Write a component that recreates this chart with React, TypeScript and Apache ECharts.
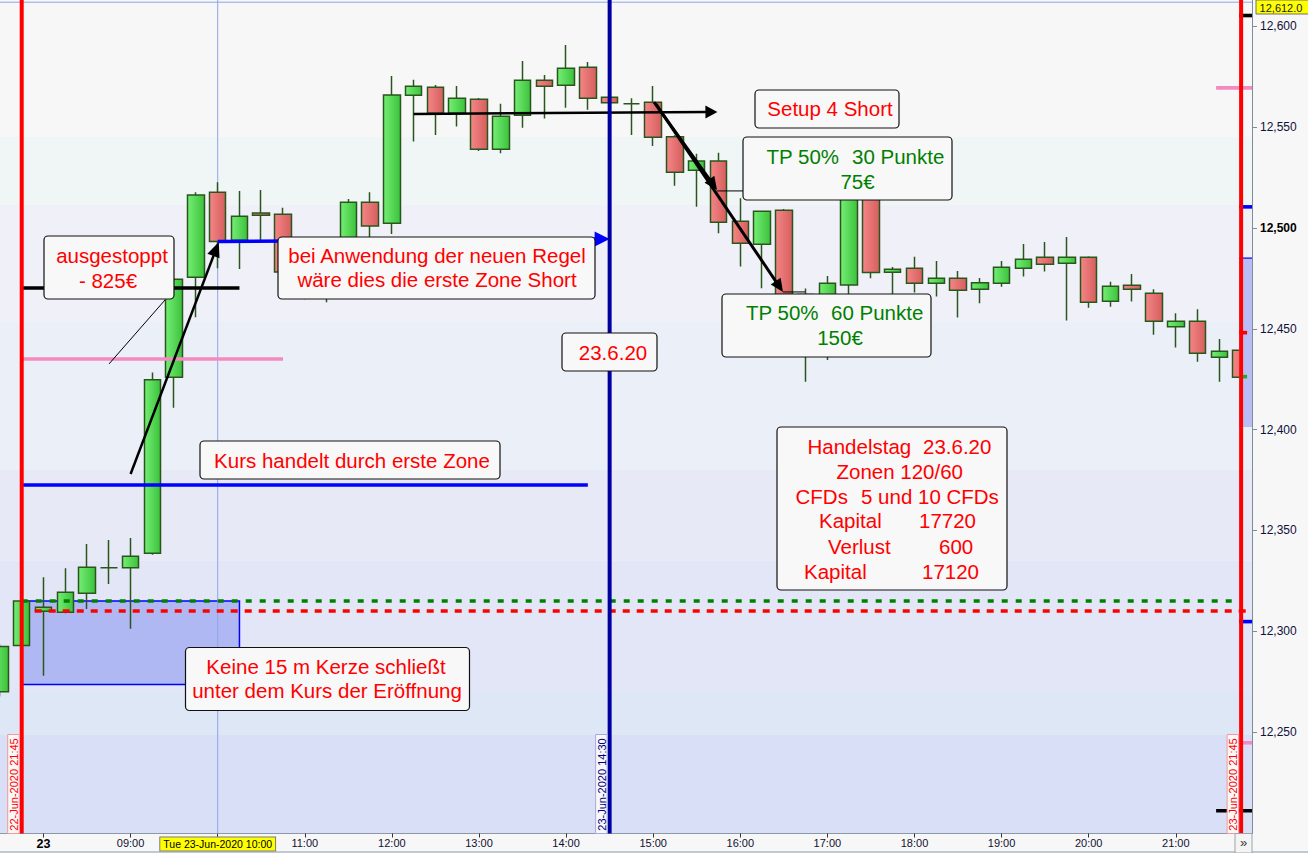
import React, { useEffect, useRef } from 'react';
import * as echarts from 'echarts';

// ---------- DATA ----------
const SLOTS = [
  '22-Jun 21:30', '22-Jun 21:45',
  '08:00', '08:15', '08:30', '08:45', '09:00', '09:15', '09:30', '09:45',
  '10:00', '10:15', '10:30', '10:45', '11:00', '11:15', '11:30', '11:45',
  '12:00', '12:15', '12:30', '12:45', '13:00', '13:15', '13:30', '13:45',
  '14:00', '14:15', '14:30', '14:45', '15:00', '15:15', '15:30', '15:45',
  '16:00', '16:15', '16:30', '16:45', '17:00', '17:15', '17:30', '17:45',
  '18:00', '18:15', '18:30', '18:45', '19:00', '19:15', '19:30', '19:45',
  '20:00', '20:15', '20:30', '20:45', '21:00', '21:15', '21:30', '21:45',
];

const OPEN = [
  12270.0, 12292.9,
  12309.9, 12309.4, 12318.9, 12331.5, 12331.5, 12338.7, 12426.0, 12475.6,
  12517.8, 12493.9, 12507.5, 12506.8, 12478.0, 12470.0, 12476.0, 12512.8,
  12502.4, 12565.9, 12569.8, 12556.9, 12563.9, 12539.1, 12556.0, 12573.3,
  12570.8, 12579.8, 12564.9, 12561.6, 12562.4, 12545.3, 12528.7, 12533.3,
  12503.4, 12492.0, 12508.8, 12467.0, 12462.0, 12471.8, 12515.0, 12478.1,
  12480.1, 12472.6, 12475.1, 12469.6, 12472.6, 12480.1, 12485.5, 12482.5,
  12485.5, 12463.7, 12471.6, 12467.7, 12451.1, 12453.8, 12435.9, 12439.4,
];
const HIGH = [
  12293.5, 12315.5,
  12326.8, 12331.2, 12343.3, 12345.3, 12346.3, 12428.3, 12475.0, 12517.8,
  12522.7, 12518.4, 12518.9, 12510.0, 12482.0, 12480.0, 12514.4, 12517.8,
  12575.4, 12573.5, 12571.0, 12570.5, 12564.5, 12561.6, 12582.9, 12575.9,
  12590.8, 12582.4, 12565.5, 12564.4, 12570.5, 12546.0, 12536.8, 12537.4,
  12514.8, 12508.5, 12509.5, 12470.0, 12476.2, 12520.0, 12518.0, 12480.7,
  12485.7, 12483.7, 12478.7, 12475.2, 12483.7, 12492.1, 12493.1, 12495.6,
  12486.0, 12473.3, 12477.2, 12469.6, 12457.7, 12459.7, 12445.0, 12439.8,
];
const LOW = [
  12267.6, 12292.5,
  12278.0, 12308.9, 12311.1, 12323.5, 12301.3, 12338.0, 12410.9, 12455.8,
  12480.0, 12479.7, 12494.1, 12477.0, 12464.7, 12463.2, 12474.0, 12495.0,
  12497.0, 12542.9, 12546.2, 12550.3, 12538.2, 12537.1, 12549.8, 12554.3,
  12559.7, 12558.7, 12561.5, 12546.2, 12540.7, 12521.0, 12510.6, 12497.4,
  12480.9, 12470.1, 12464.0, 12423.8, 12434.6, 12466.0, 12475.1, 12466.0,
  12468.0, 12466.0, 12455.6, 12462.7, 12470.9, 12475.9, 12478.4, 12454.1,
  12460.5, 12461.0, 12463.5, 12447.1, 12440.7, 12433.7, 12423.8, 12426.0,
];
const CLOSE = [
  12292.4, 12315.0,
  12311.9, 12319.3, 12331.7, 12331.5, 12337.2, 12424.7, 12474.6, 12516.4,
  12493.3, 12505.9, 12506.3, 12478.2, 12470.0, 12476.0, 12512.8, 12501.0,
  12566.0, 12570.3, 12556.9, 12564.4, 12539.1, 12555.5, 12573.3, 12570.3,
  12579.3, 12564.4, 12562.1, 12561.6, 12545.0, 12527.7, 12533.3, 12502.9,
  12492.5, 12508.3, 12467.0, 12462.0, 12472.6, 12515.0, 12477.9, 12479.6,
  12472.6, 12475.1, 12469.1, 12472.8, 12480.6, 12484.5, 12482.0, 12485.5,
  12463.2, 12471.1, 12469.6, 12453.8, 12453.8, 12437.9, 12438.9, 12426.0,
];

const Y_MIN = 12199.7;
const Y_MAX = 12613.1;
const Y_TICKS = [12250, 12300, 12350, 12400, 12450, 12500, 12550, 12600];
const CROSSHAIR_PRICE = 12612.0;

// background zones (price edges, top to bottom) and their tints
const BAND_EDGES = [12613.1, 12545.1, 12511.4, 12453.4, 12380.0, 12335.0, 12269.4, 12248.6, 12199.7];
const BAND_COLORS = ['#f7f7f7', '#f0f6f6', '#f0f0f8', '#ebeff8', '#e8e9f7', '#e3e6f6', '#dde7f6', '#d9dff6'];

// opening zone box
const ZONE_BOX = { from: 1, to: 11, top: 12315.0, bottom: 12273.6 };
const PREV_CLOSE = 12315.0;
const DAY_OPEN = 12310.1;

// horizontal annotation lines [fromSlot, toSlot, price, color, width]
const H_LINES: [number, number, number, string, number][] = [
  [1, 11, 12470.3, '#000000', 3.5],
  [1, 13, 12435.1, '#f58ac0', 3.5],
  [1, 27, 12372.6, '#0000ff', 3.5],
];

// arrows [fromSlot, fromPrice, toSlot, toPrice, width, headLen, headHalfWidth, color]
const ARROWS: [number, number, number, number, number, number, number, string][] = [
  [6, 12378.0, 10.05, 12493.1, 2.5, 15, 6.5, '#000000'],
  [10, 12493.3, 28, 12494.6, 3.5, 15, 7.5, '#0000ff'],
  [19, 12556.6, 32.95, 12557.6, 2.5, 12, 6.5, '#000000'],
  [30.04, 12562.5, 32.93, 12518.9, 3, 13, 6, '#000000'],
  [30.13, 12561.5, 35.96, 12468.3, 3, 13, 6, '#000000'],
];
// thin connector lines [fromSlot, fromPrice, toSlot, toPrice]
const CONNECTORS: [number, number, number, number][] = [
  [7.58, 12464.3, 5.01, 12432.6],
  [32.93, 12518.4, 34.17, 12518.4],
  [35.96, 12468.3, 36.97, 12468.3],
];

// vertical session markers
const V_LINES = [
  { slot: '22-Jun 21:45', label: '22-Jun-2020 21:45', color: '#ff0000', text: '#ff0000', border: '#f29a9a' },
  { slot: '14:30', label: '23-Jun-2020 14:30', color: '#0000a0', text: '#000080', border: '#a8a8e0' },
  { slot: '21:45', label: '23-Jun-2020 21:45', color: '#ff0000', text: '#ff0000', border: '#f29a9a' },
];
const CURSOR_SLOT = '10:00';

// price markers on the axis edge [price, leftOffset, color]
const AXIS_MARKS: [number, number, string][] = [
  [12605.4, 2, '#000000'],
  [12569.5, 25, '#f58ac0'],
  [12510.5, 2, '#0000ff'],
  [12448.1, 2, '#ff0000'],
  [12426.3, 2, '#22aa22'],
  [12304.8, 2, '#0000ff'],
  [12244.7, 2, '#f58ac0'],
  [12211.0, 25, '#000000'],
];
const AXIS_ZONE = { top: 12485.1, bottom: 12401.3 };

const RED = '#ff0000';
const GREEN = '#008000';

// text boxes (layout in pixels)
const BOXES = [
  { x: 44, y: 236, w: 130, h: 63, items: [['ausgestoppt', 112, 255.5, RED, 'center'], ['- 825€', 108, 280, RED, 'center']] },
  { x: 278, y: 237, w: 317, h: 62, items: [['bei Anwendung der neuen Regel', 437, 255, RED, 'center'], ['wäre dies die erste Zone Short', 437, 279.5, RED, 'center']] },
  { x: 755, y: 90, w: 144, h: 38, items: [['Setup 4 Short', 830, 108, RED, 'center']] },
  { x: 743, y: 137, w: 209, h: 63, items: [['TP 50%', 766.5, 156, GREEN, 'left'], ['30 Punkte', 852, 156, GREEN, 'left'], ['75€', 857.5, 181, GREEN, 'center']] },
  { x: 722, y: 294, w: 209, h: 63, items: [['TP 50%', 746, 312, GREEN, 'left'], ['60 Punkte', 831, 312, GREEN, 'left'], ['150€', 840, 337, GREEN, 'center']] },
  { x: 562, y: 333, w: 95, h: 38, items: [['23.6.20', 613, 352, RED, 'center']] },
  { x: 200, y: 441, w: 300, h: 38, items: [['Kurs handelt durch erste Zone', 352, 460, RED, 'center']] },
  {
    x: 777, y: 427, w: 230, h: 163, items: [
      ['Handelstag', 807.5, 446, RED, 'left'], ['23.6.20', 923, 446, RED, 'left'],
      ['Zonen 120/60', 836.5, 471.5, RED, 'left'],
      ['CFDs', 795.5, 496.5, RED, 'left'], ['5 und 10 CFDs', 861, 496.5, RED, 'left'],
      ['Kapital', 819, 520.5, RED, 'left'], ['17720', 919, 520.5, RED, 'left'],
      ['Verlust', 828, 546, RED, 'left'], ['600', 939, 546, RED, 'left'],
      ['Kapital', 804, 571, RED, 'left'], ['17120', 922, 571, RED, 'left'],
    ],
  },
  { x: 185.5, y: 647.5, w: 284, h: 63, items: [['Keine 15 m Kerze schließt', 326, 666.5, RED, 'center'], ['unter dem Kurs der Eröffnung', 327, 690.5, RED, 'center']] },
];

const FONT = '"Liberation Sans", Arial, Helvetica, sans-serif';
const GRID_LEFT = -10.95;
const GRID_RIGHT = 56;
const GRID_BOTTOM = 19.5;

const isLabelSlot = (v: string) => v.endsWith(':00') && !v.startsWith('22-Jun');

function txt(text: string, x: number, y: number, color: string, align: string, size: number, z: number, extra: any = {}) {
  return {
    type: 'text', x, y, z, silent: true, ...extra,
    style: {
      text, fill: color, font: `${size}px ${FONT}`,
      align, verticalAlign: 'middle', textAlign: align, textVerticalAlign: 'middle',
    },
  };
}

function arrowEls(x1: number, y1: number, x2: number, y2: number, lw: number, L: number, W: number, color: string, z: number) {
  const dx = x2 - x1, dy = y2 - y1;
  const len = Math.hypot(dx, dy);
  const ux = dx / len, uy = dy / len;
  const bx = x2 - ux * L, by = y2 - uy * L;
  const px = -uy, py = ux;
  return [
    { type: 'line', z, silent: true, shape: { x1, y1, x2: bx + ux * 2, y2: by + uy * 2 }, style: { stroke: color, lineWidth: lw } },
    { type: 'polygon', z, silent: true, shape: { points: [[x2, y2], [bx + px * W, by + py * W], [bx - px * W, by - py * W]] }, style: { fill: color } },
  ];
}

function buildGraphics(X: (s: number) => number, Y: (p: number) => number) {
  const els: any[] = [];
  const slotW = X(1) - X(0);
  const last = SLOTS.length - 1;
  const plotRight = X(last) + slotW / 2;
  const plotBottom = Y(Y_MIN);
  const plotTop = Y(Y_MAX);

  // background zone bands
  for (let i = 0; i < BAND_COLORS.length; i++) {
    const y1 = Y(BAND_EDGES[i]);
    const y2 = Y(BAND_EDGES[i + 1]);
    els.push({ type: 'rect', z: 0, silent: true, shape: { x: 0, y: y1, width: plotRight, height: y2 - y1 }, style: { fill: BAND_COLORS[i] } });
  }

  // opening zone box
  const zx1 = X(ZONE_BOX.from), zx2 = X(ZONE_BOX.to);
  const zy1 = Y(ZONE_BOX.top), zy2 = Y(ZONE_BOX.bottom);
  els.push({ type: 'rect', z: 1, silent: true, shape: { x: zx1, y: zy1, width: zx2 - zx1, height: zy2 - zy1 }, style: { fill: '#b0b8f4', stroke: '#0000ff', lineWidth: 1.5 } });

  // cursor crosshair
  const cx = X(SLOTS.indexOf(CURSOR_SLOT));
  els.push({ type: 'line', z: 1, silent: true, shape: { x1: cx, y1: plotTop, x2: cx, y2: plotBottom }, style: { stroke: '#8ea6e8', lineWidth: 1 } });
  const cy = Y(CROSSHAIR_PRICE);
  els.push({ type: 'line', z: 1, silent: true, shape: { x1: 0, y1: cy, x2: plotRight, y2: cy }, style: { stroke: '#8ea6e8', lineWidth: 1 } });

  // dashed day levels
  els.push({ type: 'line', z: 10, silent: true, shape: { x1: X(1), y1: Y(PREV_CLOSE), x2: X(last) - 6, y2: Y(PREV_CLOSE) }, style: { stroke: GREEN, lineWidth: 3.5, lineDash: [6, 8] } });
  els.push({ type: 'line', z: 10, silent: true, shape: { x1: X(1) + 13, y1: Y(DAY_OPEN), x2: plotRight, y2: Y(DAY_OPEN) }, style: { stroke: RED, lineWidth: 3.5, lineDash: [7, 7] } });

  // horizontal zone lines
  H_LINES.forEach(([a, b, p, c, w]) => {
    els.push({ type: 'line', z: 10, silent: true, shape: { x1: X(a), y1: Y(p), x2: X(b), y2: Y(p) }, style: { stroke: c, lineWidth: w } });
  });

  // connectors
  CONNECTORS.forEach(([s1, p1, s2, p2]) => {
    els.push({ type: 'line', z: 10, silent: true, shape: { x1: X(s1), y1: Y(p1), x2: X(s2), y2: Y(p2) }, style: { stroke: '#000000', lineWidth: 1 } });
  });

  // arrows
  ARROWS.forEach(([s1, p1, s2, p2, lw, L, W, c]) => {
    els.push(...arrowEls(X(s1), Y(p1), X(s2), Y(p2), lw, L, W, c, 10));
  });

  // axis-edge markers
  const zt = Y(AXIS_ZONE.top), zb = Y(AXIS_ZONE.bottom);
  els.push({ type: 'rect', z: 9, silent: true, shape: { x: X(last) - 2, y: zt, width: plotRight - X(last) + 2, height: zb - zt }, style: { fill: '#b8bef5' } });
  els.push({ type: 'line', z: 9, silent: true, shape: { x1: X(last) - 2, y1: zt, x2: plotRight, y2: zt }, style: { stroke: '#0000ff', lineWidth: 1.2 } });
  AXIS_MARKS.forEach(([p, off, c]) => {
    const y = Y(p);
    const w = c === '#ff0000' || c === '#22aa22' ? 8 : plotRight - X(last) + off;
    els.push({ type: 'rect', z: 9, silent: true, shape: { x: X(last) - off, y: y - 1.8, width: w, height: 3.6 }, style: { fill: c } });
  });

  // vertical session lines with rotated labels
  V_LINES.forEach((v) => {
    const x = X(SLOTS.indexOf(v.slot));
    els.push({ type: 'line', z: 11, silent: true, shape: { x1: x, y1: plotTop, x2: x, y2: plotBottom }, style: { stroke: v.color, lineWidth: 4 } });
    els.push({ type: 'rect', z: 11, silent: true, shape: { x: x - 14, y: plotBottom - 99, width: 11.5, height: 99 }, style: { fill: '#f8f8f8', stroke: v.border, lineWidth: 1 } });
    els.push(txt(v.label, x - 8, plotBottom - 49, v.text, 'center', 11, 12, { rotation: Math.PI / 2 }));
  });

  // text boxes
  BOXES.forEach((b) => {
    els.push({ type: 'rect', z: 13, silent: true, shape: { x: b.x, y: b.y, width: b.w, height: b.h, r: 4 }, style: { fill: '#f8f8f8', stroke: '#111111', lineWidth: 1.2 } });
    b.items.forEach(([t, x, y, c, a]) => {
      els.push(txt(t as string, x as number, y as number, c as string, a as string, 20.5, 14));
    });
  });

  // current-price label on the axis
  els.push({ type: 'rect', z: 15, silent: true, shape: { x: plotRight + 4, y: 0, width: 60, height: 14 }, style: { fill: '#ffff00', stroke: '#707070', lineWidth: 1 } });
  els.push(txt('12,612.0', plotRight + 29, 7.5, '#202020', 'center', 11, 16));

  // bottom strip details
  els.push({ type: 'line', z: 15, silent: true, shape: { x1: 0, y1: 852, x2: 1308, y2: 852 }, style: { stroke: '#8a98a8', lineWidth: 1 } });
  els.push({ type: 'rect', z: 15, silent: true, shape: { x: plotRight - 17, y: plotBottom, width: 17, height: 853 - plotBottom }, style: { fill: '#f4f4f4', stroke: '#9aa4ae', lineWidth: 1 } });
  els.push(txt('»', plotRight - 8.5, plotBottom + 9, '#333333', 'center', 13, 16));

  return els;
}

export default function App() {
  const ref = useRef<HTMLDivElement>(null);

  useEffect(() => {
    document.body.style.margin = '0';
    const chart = echarts.init(ref.current as HTMLDivElement, null, { renderer: 'svg' });
    const data = SLOTS.map((_, i) => [OPEN[i], CLOSE[i], LOW[i], HIGH[i]]);
    const option: any = {
      animation: false,
      backgroundColor: '#f7f7f7',
      grid: { left: GRID_LEFT, right: GRID_RIGHT, top: 0, bottom: GRID_BOTTOM, containLabel: false, outerBoundsMode: 'none' },
      xAxis: {
        type: 'category',
        data: SLOTS,
        boundaryGap: true,
        axisLine: { show: true, lineStyle: { color: '#8a98a8', width: 1 } },
        axisTick: { show: true, alignWithLabel: true, interval: (_i: number, v: string) => isLabelSlot(v), length: 4, lineStyle: { color: '#333333' } },
        axisLabel: {
          interval: (_i: number, v: string) => isLabelSlot(v),
          margin: 4,
          color: '#101030',
          fontSize: 11,
          fontFamily: FONT,
          formatter: (v: string) => (v === '08:00' ? '{b|23}' : v === CURSOR_SLOT ? '{hl|Tue 23-Jun-2020 10:00}' : v),
          rich: {
            b: { fontWeight: 'bold', fontSize: 12.5, color: '#000000', fontFamily: FONT },
            hl: { backgroundColor: '#ffff00', borderColor: '#7a7a7a', borderWidth: 1, padding: [1, 3, 1, 3], fontSize: 10.5, color: '#000000', fontFamily: FONT },
          },
        },
        splitLine: { show: false },
      },
      yAxis: {
        type: 'value',
        position: 'right',
        min: Y_MIN,
        max: Y_MAX,
        scale: true,
        axisLine: { show: true, lineStyle: { color: '#7f8c99', width: 1 } },
        axisTick: { show: true, customValues: Y_TICKS, length: 5, lineStyle: { color: '#7f8c99' } },
        axisLabel: {
          customValues: Y_TICKS,
          margin: 8,
          color: '#10103a',
          fontSize: 12,
          fontFamily: FONT,
          formatter: (v: number) => {
            const s = Number(v).toLocaleString('en-US');
            return v === 12500 ? `{b|${s}}` : s;
          },
          rich: { b: { fontWeight: 'bold', fontSize: 12, color: '#000000', fontFamily: FONT } },
        },
        splitLine: { show: false },
      },
      series: [
        {
          type: 'candlestick',
          z: 5,
          barWidth: 17,
          data,
          itemStyle: {
            color: { type: 'linear', x: 0, y: 0, x2: 1, y2: 0, colorStops: [{ offset: 0, color: '#74ee74' }, { offset: 1, color: '#3cc23c' }] },
            color0: { type: 'linear', x: 0, y: 0, x2: 1, y2: 0, colorStops: [{ offset: 0, color: '#f48686' }, { offset: 1, color: '#d65e5e' }] },
            borderColor: '#28561c',
            borderColor0: '#28561c',
            borderColorDoji: '#28561c',
            borderWidth: 1.5,
          },
        },
      ],
    };
    chart.setOption(option);

    const x0 = chart.convertToPixel({ xAxisIndex: 0 } as any, 0) as unknown as number;
    const x1 = chart.convertToPixel({ xAxisIndex: 0 } as any, 1) as unknown as number;
    const X = (s: number) => x0 + s * (x1 - x0);
    const Y = (p: number) => chart.convertToPixel({ yAxisIndex: 0 } as any, p) as unknown as number;

    chart.setOption({ graphic: { elements: buildGraphics(X, Y) } });

    return () => chart.dispose();
  }, []);

  return <div ref={ref} style={{ width: 1308, height: 853 }} />;
}
